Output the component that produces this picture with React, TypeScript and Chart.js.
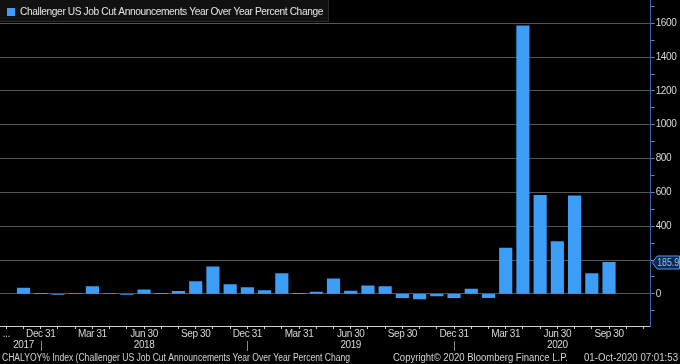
import React, { useEffect, useRef } from 'react';
import { Chart, registerables } from 'chart.js';

Chart.register(...registerables);

// ---- data ----
const months = [
  'Nov 2017', 'Dec 2017', 'Jan 2018', 'Feb 2018', 'Mar 2018', 'Apr 2018', 'May 2018', 'Jun 2018',
  'Jul 2018', 'Aug 2018', 'Sep 2018', 'Oct 2018', 'Nov 2018', 'Dec 2018', 'Jan 2019', 'Feb 2019',
  'Mar 2019', 'Apr 2019', 'May 2019', 'Jun 2019', 'Jul 2019', 'Aug 2019', 'Sep 2019', 'Oct 2019',
  'Nov 2019', 'Dec 2019', 'Jan 2020', 'Feb 2020', 'Mar 2020', 'Apr 2020', 'May 2020', 'Jun 2020',
  'Jul 2020', 'Aug 2020', 'Sep 2020',
];
const yoyChange = [
  34, 1, -3, 2, 43, 2, -2, 24,
  1, 15, 73, 160, 55, 37, 20, 120,
  1, 10, 89, 17, 47, 43, -22, -30,
  -12, -22, 28, -22, 270, 1585, 583, 309,
  579, 120, 185.9,
];
const tickMonths = [
  'Dec 2017', 'Mar 2018', 'Jun 2018', 'Sep 2018', 'Dec 2018', 'Mar 2019',
  'Jun 2019', 'Sep 2019', 'Dec 2019', 'Mar 2020', 'Jun 2020', 'Sep 2020',
];
const tickTexts = [
  'Dec 31', 'Mar 31', 'Jun 30', 'Sep 30', 'Dec 31', 'Mar 31',
  'Jun 30', 'Sep 30', 'Dec 31', 'Mar 31', 'Jun 30', 'Sep 30',
];
const yearMonths = ['Nov 2017', 'Jun 2018', 'Jun 2019', 'Jun 2020'];
const yearTexts = ['2017', '2018', '2019', '2020'];
const yearBreakMonths = ['Dec 2017', 'Dec 2018', 'Dec 2019'];
const yTickValues = [-100, 0, 100, 200, 300, 400, 500, 600, 700, 800, 900, 1000, 1100, 1200, 1300, 1400, 1500, 1600, 1700];
const yLabelValues = [0, 400, 600, 800, 1000, 1200, 1400, 1600];
const yGridValues = [0, 200, 400, 600, 800, 1000, 1200, 1400, 1600];

const seriesName = 'Challenger US Job Cut Announcements Year Over Year Percent Change';
const footerLeft = 'CHALYOY% Index (Challenger US Job Cut Announcements Year Over Year Percent Chang';
const footerMid = 'Copyright\u00A9 2020 Bloomberg Finance L.P.';
const footerRight = '01-Oct-2020 07:01:53';

const FONT = '"Liberation Sans", Arial, sans-serif';
const BAR = '#3d9ef8';
const SPACING = '-0.4px';

const spacingPlugin = {
  id: 'spacingPlugin',
  beforeInit(chart: any) {
    chart.ctx.letterSpacing = SPACING;
  },
  beforeUpdate(chart: any) {
    chart.ctx.letterSpacing = SPACING;
  },
  beforeDraw(chart: any) {
    const { ctx, width, height } = chart;
    ctx.letterSpacing = SPACING;
    ctx.save();
    ctx.fillStyle = '#000';
    ctx.fillRect(0, 0, width, height);
    const lg = chart.legend;
    if (lg && lg.legendHitBoxes && lg.legendHitBoxes.length) {
      const hb = lg.legendHitBoxes[0];
      const w = hb.left + hb.width + 6;
      ctx.fillStyle = '#111111';
      ctx.fillRect(0, 0, w, 22);
      ctx.strokeStyle = '#2a2a2a';
      ctx.lineWidth = 1;
      ctx.strokeRect(-0.5, -0.5, w, 22);
    }
    ctx.restore();
  },
};

const decorPlugin = {
  id: 'decorPlugin',
  afterDraw(chart: any) {
    const { ctx, chartArea } = chart;
    const xs = chart.scales.x;
    const ys = chart.scales.y;
    ctx.save();
    ctx.letterSpacing = '0px';
    // year separators
    ctx.strokeStyle = '#8a8a8a';
    ctx.lineWidth = 1;
    yearBreakMonths.forEach((m) => {
      const px = Math.round(xs.getPixelForValue(months.indexOf(m))) + 0.5;
      ctx.beginPath();
      ctx.moveTo(px, 341);
      ctx.lineTo(px, 351);
      ctx.stroke();
    });
    // last value badge
    const last = yoyChange[yoyChange.length - 1];
    const y = Math.round(ys.getPixelForValue(last)) + 0.5;
    const x0 = chartArea.right + 1.5;
    ctx.beginPath();
    ctx.moveTo(x0, y);
    ctx.lineTo(x0 + 5, y - 6.5);
    ctx.lineTo(679.5, y - 6.5);
    ctx.lineTo(679.5, y + 6.5);
    ctx.lineTo(x0 + 5, y + 6.5);
    ctx.closePath();
    ctx.fillStyle = '#0c2850';
    ctx.fill();
    ctx.strokeStyle = '#4f9ef0';
    ctx.stroke();
    ctx.fillStyle = '#8fc6ff';
    ctx.font = `10px ${FONT}`;
    ctx.textBaseline = 'middle';
    ctx.textAlign = 'left';
    ctx.fillText(last.toFixed(1), x0 + 5, y + 0.5, 22);
    // footer
    ctx.fillStyle = '#d2d2d2';
    ctx.font = `10px ${FONT}`;
    ctx.textBaseline = 'middle';
    ctx.textAlign = 'left';
    ctx.fillText(footerLeft, 2, 358, 348);
    ctx.fillText(footerMid, 393, 358, 175);
    ctx.textAlign = 'right';
    ctx.fillText(footerRight, 678, 358, 94);
    ctx.restore();
  },
};

export default function App() {
  const ref = useRef<HTMLCanvasElement | null>(null);
  useEffect(() => {
    if (!ref.current) return;
    Chart.defaults.font.family = FONT;
    const chart = new Chart(ref.current, {
      type: 'bar',
      data: {
        datasets: [
          {
            label: seriesName,
            data: months.map((m, i) => ({ x: i, y: yoyChange[i] })),
            backgroundColor: BAR,
            borderWidth: 0,
            barThickness: 12.5,
          },
        ],
      },
      options: {
        responsive: false,
        animation: false,
        devicePixelRatio: 1,
        layout: { padding: 0 },
        plugins: {
          legend: {
            display: true,
            position: 'chartArea',
            align: 'start',
            labels: {
              boxWidth: 8,
              boxHeight: 8,
              padding: 7,
              color: '#e4e4e4',
              font: { size: 10.2, family: FONT },
            },
          },
          tooltip: { enabled: false },
        },
        scales: {
          x: {
            type: 'linear',
            offset: false,
            min: -1.365,
            max: 36.42,
            afterBuildTicks: (scale: any) => {
              const t = [];
              for (let i = -1; i <= months.length + 1; i++) t.push({ value: i });
              scale.ticks = t;
            },
            afterFit: (scale: any) => {
              scale.height = 38;
              scale.paddingLeft = 0;
              scale.paddingRight = 0;
            },
            ticks: {
              autoSkip: false,
              maxRotation: 0,
              minRotation: 0,
              padding: 0,
              color: '#d6d6d6',
              font: { size: 10, family: FONT, lineHeight: 1.1 },
              callback: (value: any) => {
                const i = Number(value);
                if (i === -1) return '...';
                const m = months[i];
                if (!m) return '';
                const ti = tickMonths.indexOf(m);
                const yi = yearMonths.indexOf(m);
                const l1 = ti >= 0 ? tickTexts[ti] : '';
                const l2 = yi >= 0 ? yearTexts[yi] : '';
                if (!l1 && !l2) return '';
                return [l1, l2];
              },
            },
            grid: {
              offset: false,
              drawOnChartArea: false,
              drawTicks: true,
              tickLength: 3,
              color: '#cfcfcf',
            },
            border: { display: true, color: '#cfcfcf', width: 1 },
          },
          y: {
            type: 'linear',
            position: 'right',
            min: -190,
            max: 1737.6,
            afterBuildTicks: (scale: any) => {
              scale.ticks = yTickValues.map((v) => ({ value: v }));
            },
            afterFit: (scale: any) => {
              scale.width = 29.3;
              scale.paddingTop = 0;
              scale.paddingBottom = 0;
            },
            ticks: {
              padding: 1,
              color: '#d8d8d8',
              font: { size: 10, family: FONT },
              callback: (value: any) => (yLabelValues.includes(Number(value)) ? String(value) : ''),
            },
            grid: {
              drawOnChartArea: true,
              tickLength: 4,
              color: (ctx: any) =>
                ctx.tick && yGridValues.includes(ctx.tick.value) ? '#555555' : 'rgba(0,0,0,0)',
              tickColor: '#4f86d9',
            },
            border: { display: true, color: '#3d64a6', width: 1 },
          },
        },
      } as any,
      plugins: [spacingPlugin, decorPlugin],
    });
    return () => chart.destroy();
  }, []);
  return (
    <div style={{ position: 'fixed', left: 0, top: 0, width: 680, height: 364, background: '#000' }}>
      <canvas ref={ref} width={680} height={364} style={{ display: 'block' }} />
    </div>
  );
}
